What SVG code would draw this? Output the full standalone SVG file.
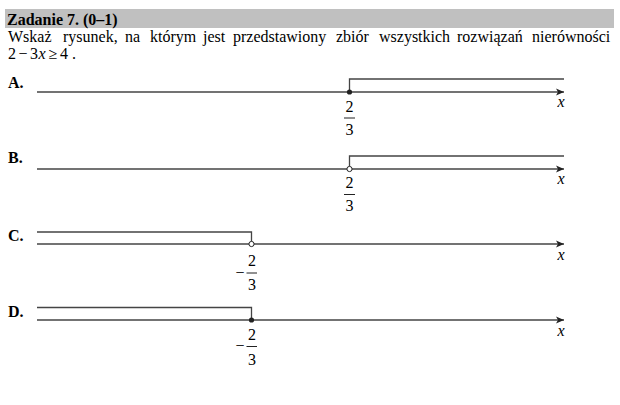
<svg xmlns="http://www.w3.org/2000/svg" width="620" height="405" viewBox="0 0 620 405">
<style>
text{font-family:"Liberation Serif","Times New Roman",serif;font-size:16px;fill:#000}
.b{font-weight:bold}
.i{font-style:italic}
.ax{stroke:#444;stroke-width:1.3;fill:none}
.fb{stroke:#222;stroke-width:1}
.lab{text-anchor:middle}
</style>
<defs>
<marker id="arr" markerWidth="10" markerHeight="8" refX="8" refY="4" orient="auto" markerUnits="userSpaceOnUse">
<path d="M0,0.5 L8,4 L0,7.5 L2,4 Z" fill="#222"/>
</marker>
</defs>
<rect width="620" height="405" fill="#fff"/>
<g id="header">
<rect x="5" y="9" width="609" height="19" fill="#c0c0c0"/>
<text class="b" x="7" y="25">Zadanie 7. (0–1)</text>
<text y="42"><tspan x="8">Wskaż</tspan><tspan x="63">rysunek,</tspan><tspan x="125">na</tspan><tspan x="150">którym</tspan><tspan x="203">jest</tspan><tspan x="233">przedstawiony</tspan><tspan x="336">zbiór</tspan><tspan x="379">wszystkich</tspan><tspan x="457">rozwiązań</tspan><tspan x="532">nierówności</tspan></text>
<text y="59"><tspan x="8">2</tspan><tspan x="18.5">−</tspan><tspan x="30">3</tspan><tspan x="38.5" class="i">x</tspan><tspan x="48.5">≥</tspan><tspan x="60">4</tspan><tspan x="72">.</tspan></text>
</g>
<g id="optionA">
<text class="b" x="8" y="88">A.</text>
<line class="ax" x1="37" y1="92" x2="564" y2="92" marker-end="url(#arr)"/>
<polyline class="ax" points="349.5,92 349.5,79 564,79"/>
<circle cx="349.5" cy="92" r="2.6" fill="#222"/>
<text class="lab" x="349.5" y="112">2</text>
<line class="fb" x1="344" y1="118" x2="355" y2="118"/>
<text class="lab" x="349.5" y="134.5">3</text>
<text class="i lab" x="561" y="107">x</text>
</g>
<g id="optionB">
<text class="b" x="8" y="163">B.</text>
<line class="ax" x1="37" y1="169" x2="564" y2="169" marker-end="url(#arr)"/>
<polyline class="ax" points="349.5,166.4 349.5,156 564,156"/>
<circle cx="349.5" cy="169" r="2.6" fill="#fff" stroke="#222" stroke-width="1"/>
<text class="lab" x="349.5" y="188">2</text>
<line class="fb" x1="344" y1="194.5" x2="355" y2="194.5"/>
<text class="lab" x="349.5" y="211">3</text>
<text class="i lab" x="561" y="184">x</text>
</g>
<g id="optionC">
<text class="b" x="8" y="241">C.</text>
<line class="ax" x1="37" y1="244" x2="564" y2="244" marker-end="url(#arr)"/>
<polyline class="ax" points="37,232 251.5,232 251.5,241.4"/>
<circle cx="251.5" cy="244" r="2.6" fill="#fff" stroke="#222" stroke-width="1"/>
<text class="lab" x="240" y="277.5">−</text>
<text class="lab" x="252" y="266">2</text>
<line class="fb" x1="246.5" y1="273" x2="257" y2="273"/>
<text class="lab" x="252" y="290">3</text>
<text class="i lab" x="561" y="260">x</text>
</g>
<g id="optionD">
<text class="b" x="8" y="317">D.</text>
<line class="ax" x1="37" y1="320" x2="564" y2="320" marker-end="url(#arr)"/>
<polyline class="ax" points="37,307.5 251.5,307.5 251.5,320"/>
<circle cx="251.5" cy="320" r="2.6" fill="#222"/>
<text class="lab" x="240" y="351">−</text>
<text class="lab" x="252" y="339.5">2</text>
<line class="fb" x1="246.5" y1="346.5" x2="257" y2="346.5"/>
<text class="lab" x="252" y="364.5">3</text>
<text class="i lab" x="561" y="336">x</text>
</g>
</svg>
